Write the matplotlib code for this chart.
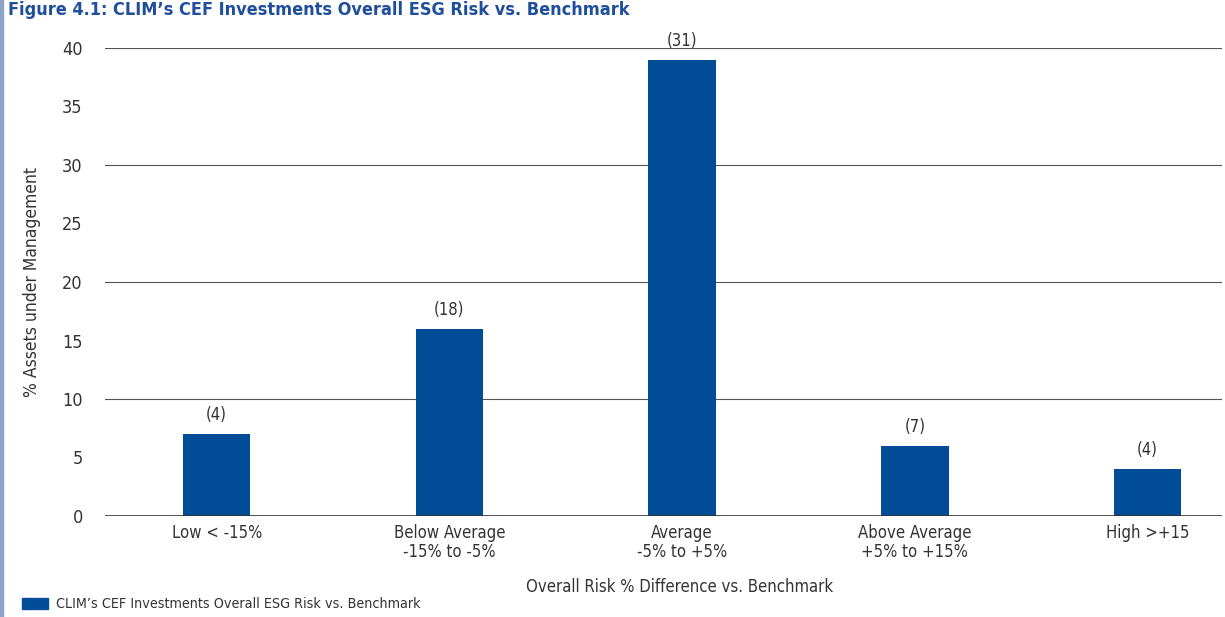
import matplotlib.pyplot as plt
from matplotlib.patches import Rectangle

plt.rcParams['font.family'] = ['DejaVu Sans']
plt.rcParams['font.stretch'] = 'condensed'

categories = ['Low < -15%', 'Below Average\n-15% to -5%', 'Average\n-5% to +5%',
              'Above Average\n+5% to +15%', 'High >+15']
aum_pct = [7, 16, 39, 6, 4]
fund_counts = [4, 18, 31, 7, 4]

bar_color = '#004c97'
text_color = '#333333'

fig = plt.figure(figsize=(12.25, 6.17), dpi=100)
ax = fig.add_axes([105 / 1225, 1 - 516 / 617, 1117 / 1225, 468 / 617])

x = range(len(categories))
bars = ax.bar(x, aum_pct, width=0.29, color=bar_color, zorder=3)
for b, n in zip(bars, fund_counts):
    ax.annotate(f'({n})', (b.get_x() + b.get_width() / 2, b.get_height()),
                xytext=(0, 7), textcoords='offset points', ha='center', va='bottom',
                fontsize=12, color=text_color)

ax.set_ylim(0, 40)
ax.set_xlim(-0.48, 4.32)
ax.set_yticks(range(0, 41, 5))
ax.set_xticks(list(x))
ax.set_xticklabels(categories, fontsize=12, color=text_color, linespacing=1.05)
ax.tick_params(axis='y', labelsize=13, labelcolor=text_color, length=0, pad=16)
ax.tick_params(axis='x', length=0, pad=6)
for v in range(10, 41, 10):
    ax.axhline(v, color='#555555', linewidth=0.8, zorder=1)
ax.axhline(0, color='#333333', linewidth=1.2, zorder=4)
for s in ax.spines.values():
    s.set_visible(False)

ax.set_ylabel('% Assets under Management', fontsize=12.5, color=text_color, labelpad=15)
fig.text(680 / 1225, 1 - 587 / 617, 'Overall Risk % Difference vs. Benchmark',
         ha='center', va='center', fontsize=12, color=text_color)

# legend row at the bottom left
fig.patches.append(Rectangle((22 / 1225, 1 - 609 / 617), 26 / 1225, 11 / 617,
                             transform=fig.transFigure, color=bar_color))
fig.text(56 / 1225, 1 - 604 / 617, 'CLIM\u2019s CEF Investments Overall ESG Risk vs. Benchmark',
         ha='left', va='center', fontsize=10.3, color=text_color)

fig.text(8 / 1225, 1 - 1 / 617, 'Figure 4.1: CLIM\u2019s CEF Investments Overall ESG Risk vs. Benchmark',
         ha='left', va='top', fontsize=13, fontweight='bold', color='#1f4e9a')

# left border line
fig.patches.append(Rectangle((0, 0), 3 / 1225, 1, transform=fig.transFigure,
                             color='#8fa3c8'))

fig.savefig('out.png', dpi=100)
